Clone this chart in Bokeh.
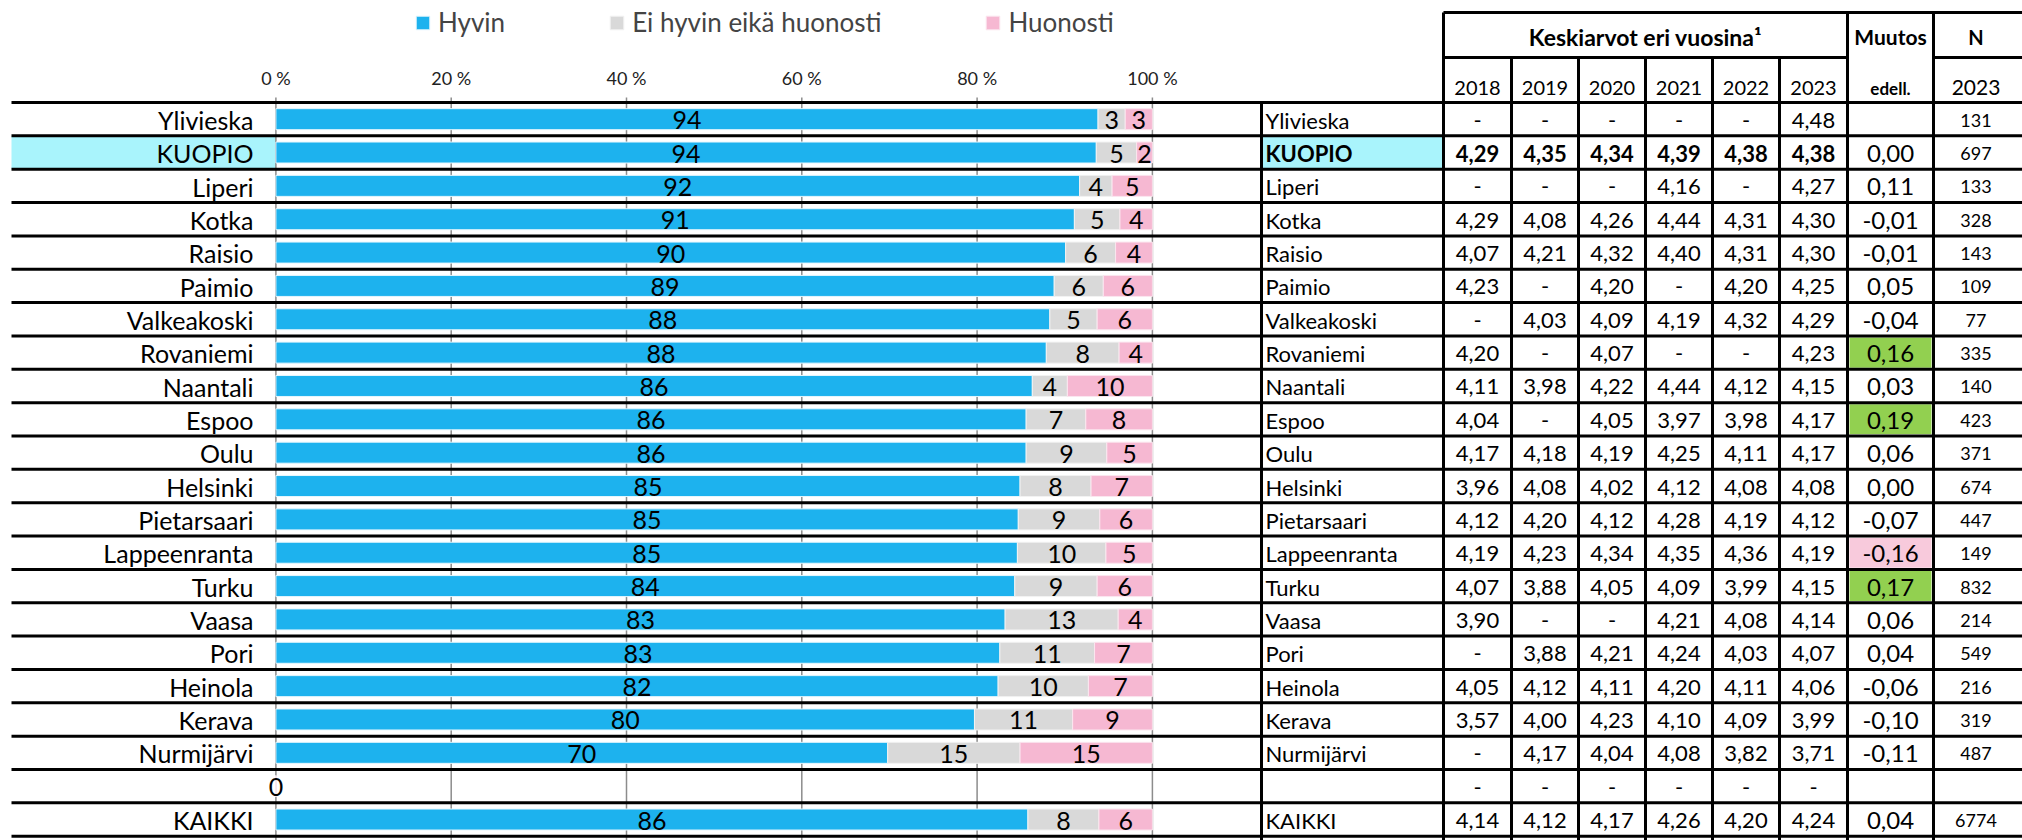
from bokeh.plotting import figure
from bokeh.models import Range1d, ColumnDataSource, Legend, LegendItem
from bokeh.core.properties import value
from bokeh.embed import file_html
from bokeh.resources import INLINE

# ---------------- data ----------------
cities = ["Ylivieska", "KUOPIO", "Liperi", "Kotka", "Raisio", "Paimio",
          "Valkeakoski", "Rovaniemi", "Naantali", "Espoo", "Oulu", "Helsinki",
          "Pietarsaari", "Lappeenranta", "Turku", "Vaasa", "Pori", "Heinola",
          "Kerava", "Nurmijärvi", "", "KAIKKI"]
highlight = "KUOPIO"

series_names = ["Hyvin", "Ei hyvin eikä huonosti", "Huonosti"]
hyvin = [93.8, 93.6, 91.7, 91.1, 90.1, 88.8, 88.3, 87.9, 86.3, 85.6, 85.6, 84.9,
         84.7, 84.6, 84.3, 83.2, 82.6, 82.4, 79.7, 69.8, 0, 85.8]
ei_hyvin = [3.1, 4.6, 3.7, 5.2, 5.7, 5.6, 5.4, 8.3, 4.0, 6.8, 9.2, 8.1,
            9.3, 10.1, 9.4, 12.9, 10.8, 10.3, 11.2, 15.1, 0, 8.1]
huonosti = [3.1, 1.8, 4.6, 3.7, 4.2, 5.6, 6.3, 3.8, 9.7, 7.6, 5.2, 7.0,
            6.0, 5.3, 6.3, 3.9, 6.6, 7.3, 9.1, 15.1, 0, 6.1]

ticks = [0, 20, 40, 60, 80, 100]
tick_labels = ["0 %", "20 %", "40 %", "60 %", "80 %", "100 %"]

years = ["2018", "2019", "2020", "2021", "2022", "2023"]
m2018 = [None, 4.29, None, 4.29, 4.07, 4.23, None, 4.20, 4.11, 4.04, 4.17, 3.96,
         4.12, 4.19, 4.07, 3.90, None, 4.05, 3.57, None, None, 4.14]
m2019 = [None, 4.35, None, 4.08, 4.21, None, 4.03, None, 3.98, None, 4.18, 4.08,
         4.20, 4.23, 3.88, None, 3.88, 4.12, 4.00, 4.17, None, 4.12]
m2020 = [None, 4.34, None, 4.26, 4.32, 4.20, 4.09, 4.07, 4.22, 4.05, 4.19, 4.02,
         4.12, 4.34, 4.05, None, 4.21, 4.11, 4.23, 4.04, None, 4.17]
m2021 = [None, 4.39, 4.16, 4.44, 4.40, None, 4.19, None, 4.44, 3.97, 4.25, 4.12,
         4.28, 4.35, 4.09, 4.21, 4.24, 4.20, 4.10, 4.08, None, 4.26]
m2022 = [None, 4.38, None, 4.31, 4.31, 4.20, 4.32, None, 4.12, 3.98, 4.11, 4.08,
         4.19, 4.36, 3.99, 4.08, 4.03, 4.11, 4.09, 3.82, None, 4.20]
m2023 = [4.48, 4.38, 4.27, 4.30, 4.30, 4.25, 4.29, 4.23, 4.15, 4.17, 4.17, 4.08,
         4.12, 4.19, 4.15, 4.14, 4.07, 4.06, 3.99, 3.71, None, 4.24]
muutos = [None, 0.00, 0.11, -0.01, -0.01, 0.05, -0.04, 0.16, 0.03, 0.19, 0.06, 0.00,
          -0.07, -0.16, 0.17, 0.06, 0.04, -0.06, -0.10, -0.11, None, 0.04]
n_2023 = [131, 697, 133, 328, 143, 109, 77, 335, 140, 423, 371, 674,
          447, 149, 832, 214, 549, 216, 319, 487, None, 6774]
means = [m2018, m2019, m2020, m2021, m2022, m2023]

# ---------------- style / layout ----------------
FONT = "Lato"
BLUE, GREY, PINK = "#1DB2EE", "#D9D9D9", "#F6B8D2"
CYAN, GREEN, ROSE = "#A9F4FC", "#92D050", "#F8CADC"
W, H, OFF = 2022, 840, 0
X0, PX_PER_PCT = 275.4, 8.765          # pixel of 0 %, pixels per percent
ROW_TOP, ROW_H = 102.0, 33.35          # pixel of first row top, row height
LINE_L, LINE_R = 11, 2022
NAME_L = 1261
YEAR_EDGES = [1443, 1511, 1578, 1645, 1712, 1779, 1847]
MUU_EDGES = [1847, 1933]
N_EDGES = [1933, 2022]
HDR_TOP, HDR_MID = 12, 57

n = len(cities)
rows = list(range(n))

p = figure(width=W, height=H, output_backend="svg", toolbar_location=None,
           x_axis_location=None, y_axis_location=None, min_border=0,
           x_range=Range1d((OFF - X0) / PX_PER_PCT, (OFF + W - X0) / PX_PER_PCT),
           y_range=Range1d((OFF + H - ROW_TOP) / ROW_H - 0.5, (OFF - ROW_TOP) / ROW_H - 0.5))
p.extra_x_ranges = {"px": Range1d(OFF, OFF + W)}
p.extra_y_ranges = {"px": Range1d(OFF + H, OFF)}
p.outline_line_color = None
p.background_fill_color = "white"
p.border_fill_color = "white"
p.grid.visible = False

# ---- highlight fills ----
hi = cities.index(highlight)
p.quad(left=[LINE_L], right=[X0], top=[hi - 0.5], bottom=[hi + 0.5],
       x_range_name="px", fill_color=CYAN, line_color=None)
p.quad(left=[NAME_L], right=[YEAR_EDGES[0]], top=[hi - 0.5], bottom=[hi + 0.5],
       x_range_name="px", fill_color=CYAN, line_color=None)

# muutos cell colours
mr = [i for i, v in enumerate(muutos) if v is not None and abs(v) >= 0.15]
p.quad(left=[MUU_EDGES[0] + 2] * len(mr), right=[MUU_EDGES[1] - 2] * len(mr),
       top=[i - 0.45 for i in mr], bottom=[i + 0.45 for i in mr], x_range_name="px",
       fill_color=[GREEN if muutos[i] > 0 else ROSE for i in mr], line_color=None)

# ---- grid lines ----
p.segment(x0=ticks, x1=ticks, y0=[-0.65] * len(ticks), y1=[n] * len(ticks),
          line_color="#8C8C8C", line_width=1.5)

# ---- stacked bars ----
e_left = hyvin
e_right = [a + b for a, b in zip(hyvin, ei_hyvin)]
p_right = [a + b for a, b in zip(e_right, huonosti)]
src = ColumnDataSource(dict(row=rows, h1=hyvin, e0=e_left, e1=e_right, p0=e_right, p1=p_right))
BAR_H = 0.63
r_h = p.hbar(y="row", left=0, right="h1", height=BAR_H, source=src,
             fill_color=BLUE, line_color="#E6F6FD", line_width=1)
r_e = p.hbar(y="row", left="e0", right="e1", height=BAR_H, source=src,
             fill_color=GREY, line_color="#F2F2F2", line_width=1)
r_p = p.hbar(y="row", left="p0", right="p1", height=BAR_H, source=src,
             fill_color=PINK, line_color="#FBE6EF", line_width=1)

# bar value labels
lx, ly, lt = [], [], []
for i in rows:
    segs = [(0, hyvin[i]), (e_left[i], ei_hyvin[i]), (e_right[i], huonosti[i])]
    for k, (start, v) in enumerate(segs):
        if v > 0 or k == 0:
            lx.append(start + v / 2)
            ly.append(i + 0.03)
            lt.append(f"{v:.0f}")
p.text(x=lx, y=ly, text=lt, text_align="center", text_baseline="middle",
       text_font=value(FONT), text_font_size="25px", text_color="black")

# ---- row separator lines ----
bounds = [i - 0.5 for i in range(n + 1)]
p.segment(x0=[LINE_L] * len(bounds), x1=[LINE_R] * len(bounds), y0=bounds, y1=bounds,
          x_range_name="px", line_color="black", line_width=3)

# ---- category labels (left) ----
p.text(x=[253] * n, y=[i + 0.02 for i in rows], text=cities, x_range_name="px",
       text_align="right", text_baseline="middle", text_font=value(FONT),
       text_font_size="25px", text_color="black")

# ---- x tick labels ----
p.text(x=ticks, y=[77] * len(ticks), text=tick_labels, y_range_name="px",
       text_align="center", text_baseline="middle", text_font=value(FONT),
       text_font_size="18px", text_color="#222222")

# ---- legend ----
legend = Legend(items=[LegendItem(label=series_names[0], renderers=[r_h]),
                       LegendItem(label=series_names[1], renderers=[r_e]),
                       LegendItem(label=series_names[2], renderers=[r_p])],
                orientation="horizontal", location=(414, H - 38), spacing=103,
                glyph_width=17, glyph_height=17, label_standoff=7, padding=0, margin=0,
                label_text_font=FONT, label_text_font_size="26px",
                border_line_color=None, background_fill_alpha=0)
p.add_layout(legend)

# ---- table ----
def fmt(v):
    return "-" if v is None else f"{v:.2f}".replace(".", ",")

bold_row = ["bold" if c == highlight else "normal" for c in cities]
# names
p.text(x=[NAME_L + 4] * n, y=[i + 0.03 for i in rows], text=cities, x_range_name="px",
       text_align="left", text_baseline="middle", text_font=value(FONT),
       text_font_size="22px", text_font_style=bold_row, text_color="black")
# yearly means
tx, ty, tt, ts = [], [], [], []
for j, col in enumerate(means):
    cx = (YEAR_EDGES[j] + YEAR_EDGES[j + 1]) / 2
    for i in rows:
        tx.append(cx)
        ty.append(i + 0.03)
        tt.append(fmt(col[i]))
        ts.append(bold_row[i])
p.text(x=tx, y=ty, text=tt, text_font_style=ts, x_range_name="px",
       text_align="center", text_baseline="middle", text_font=value(FONT),
       text_font_size="22px", text_color="black")
# muutos
p.text(x=[sum(MUU_EDGES) / 2] * n, y=[i + 0.03 for i in rows],
       text=["" if v is None else fmt(v) for v in muutos], x_range_name="px",
       text_align="center", text_baseline="middle", text_font=value(FONT),
       text_font_size="24px", text_color="black")
# N
p.text(x=[sum(N_EDGES) / 2 - 2] * n, y=[i + 0.03 for i in rows],
       text=["" if v is None else str(v) for v in n_2023], x_range_name="px",
       text_align="center", text_baseline="middle", text_font=value(FONT),
       text_font_size="18px", text_color="black")

# table grid: verticals in data rows
vx = [NAME_L] + YEAR_EDGES + [MUU_EDGES[1]]
p.segment(x0=vx, x1=vx, y0=[-0.5] * len(vx), y1=[n] * len(vx), x_range_name="px",
          line_color="black", line_width=3)
# header verticals
hvx = [YEAR_EDGES[0], MUU_EDGES[0], MUU_EDGES[1]]
p.segment(x0=hvx, x1=hvx, y0=[HDR_TOP] * 3, y1=[ROW_TOP] * 3,
          x_range_name="px", y_range_name="px", line_color="black", line_width=3)
yvx = YEAR_EDGES[1:-1]
p.segment(x0=yvx, x1=yvx, y0=[HDR_MID] * len(yvx), y1=[ROW_TOP] * len(yvx),
          x_range_name="px", y_range_name="px", line_color="black", line_width=3)
# header horizontals
p.segment(x0=[YEAR_EDGES[0], YEAR_EDGES[0], N_EDGES[0]], x1=[LINE_R, MUU_EDGES[0], LINE_R],
          y0=[HDR_TOP, HDR_MID, HDR_MID], y1=[HDR_TOP, HDR_MID, HDR_MID],
          x_range_name="px", y_range_name="px", line_color="black", line_width=3)

# header texts
hdr_font = dict(x_range_name="px", y_range_name="px", text_align="center",
                text_baseline="middle", text_font=value(FONT), text_color="black")
p.text(x=[(YEAR_EDGES[0] + YEAR_EDGES[-1]) / 2], y=[36], text=["Keskiarvot eri vuosina¹"],
       text_font_style="bold", text_font_size="23px", **hdr_font)
p.text(x=[(YEAR_EDGES[j] + YEAR_EDGES[j + 1]) / 2 for j in range(len(years))],
       y=[87] * len(years), text=years, text_font_size="20px", **hdr_font)
p.text(x=[sum(MUU_EDGES) / 2], y=[36], text=["Muutos"], text_font_style="bold",
       text_font_size="21px", **hdr_font)
p.text(x=[sum(MUU_EDGES) / 2], y=[88], text=["edell."], text_font_style="bold",
       text_font_size="17px", **hdr_font)
p.text(x=[sum(N_EDGES) / 2 - 2], y=[36], text=["N"], text_font_style="bold",
       text_font_size="20px", **hdr_font)
p.text(x=[sum(N_EDGES) / 2 - 2], y=[87], text=["2023"], text_font_size="21px", **hdr_font)

open("out.html", "w").write(file_html(p, INLINE))
